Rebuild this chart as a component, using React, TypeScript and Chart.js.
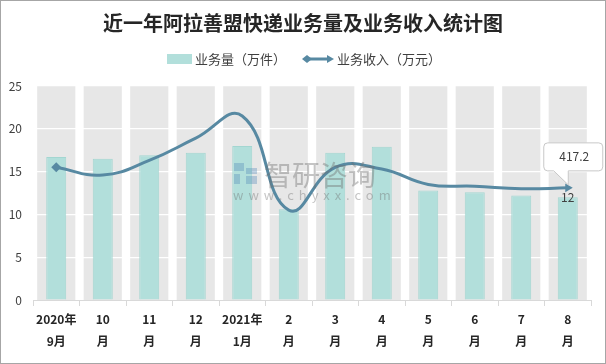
import React, { useEffect, useRef } from 'react';
import { Chart, registerables } from 'chart.js';
Chart.register(...registerables);

const TITLE = '近一年阿拉善盟快递业务量及业务收入统计图';
const CATEGORIES = [
  ['2020年', '9月'], ['10', '月'], ['11', '月'], ['12', '月'], ['2021年', '1月'], ['2', '月'],
  ['3', '月'], ['4', '月'], ['5', '月'], ['6', '月'], ['7', '月'], ['8', '月'],
];
const VOLUME_LABEL = '业务量（万件）';
const REVENUE_LABEL = '业务收入（万元）';
const VOLUME = [16.7, 16.5, 16.9, 17.2, 18.0, 10.6, 17.2, 17.9, 12.8, 12.6, 12.2, 12.0];
const REVENUE = [15.5, 14.6, 16.3, 18.9, 21.5, 10.5, 15.5, 15.3, 13.5, 13.3, 13.0, 13.1];
const Y_MIN = 0;
const Y_MAX = 25;
const Y_STEP = 5;
const CALLOUT_TEXT = '417.2';
const WATERMARK_CN = '智研咨询';
const WATERMARK_URL = 'www.chyxx.com';

const FONT = '"Noto Sans CJK SC", "Noto Sans", sans-serif';
const BAR_FILL = '#b2dfdb';
const BAR_EDGE = '#a3d6d1';
const LINE_COLOR = '#5789a2';
const BAND = '#e7e7e7';
const TEXT = '#404040';

const N = CATEGORIES.length;

const decor = {
  id: 'decor',
  beforeDraw(chart: any) {
    const { ctx, chartArea, scales } = chart;
    const x = scales.x;
    ctx.save();
    ctx.fillStyle = '#ffffff';
    ctx.fillRect(0, 0, chart.width, chart.height);
    // grey column bands
    const cw = (chartArea.right - chartArea.left) / N;
    const bw = cw * 0.82;
    ctx.fillStyle = BAND;
    for (let i = 0; i < N; i++) {
      const cx = x.getPixelForValue(i);
      ctx.fillRect(cx - bw / 2, chartArea.top, bw, chartArea.bottom - chartArea.top);
    }
    // title
    ctx.fillStyle = '#262626';
    ctx.font = `bold 20px ${FONT}`;
    ctx.textAlign = 'center';
    ctx.textBaseline = 'middle';
    ctx.fillText(TITLE, 303, 23);
    // legend
    const ly = 59;
    ctx.fillStyle = BAR_FILL;
    ctx.fillRect(167, ly - 5, 25, 10);
    ctx.font = `13px ${FONT}`;
    ctx.fillStyle = TEXT;
    ctx.textAlign = 'left';
    ctx.fillText(VOLUME_LABEL, 195, ly);
    ctx.strokeStyle = LINE_COLOR;
    ctx.lineWidth = 3;
    ctx.beginPath();
    ctx.moveTo(307, ly);
    ctx.lineTo(330, ly);
    ctx.stroke();
    ctx.fillStyle = LINE_COLOR;
    ctx.beginPath();
    ctx.moveTo(302, ly); ctx.lineTo(307, ly - 4); ctx.lineTo(312, ly); ctx.lineTo(307, ly + 4); ctx.closePath();
    ctx.fill();
    ctx.beginPath();
    ctx.moveTo(334, ly); ctx.lineTo(327, ly - 4); ctx.lineTo(327, ly + 4); ctx.closePath();
    ctx.fill();
    ctx.fillStyle = TEXT;
    ctx.fillText(REVENUE_LABEL, 337, ly);
    ctx.restore();
  },
  afterDatasetsDraw(chart: any) {
    const { ctx } = chart;
    ctx.save();
    // watermark
    ctx.globalAlpha = 0.35;
    ctx.fillStyle = '#4f86b8';
    ctx.fillRect(234, 163, 10, 8);
    ctx.fillRect(234, 174, 6, 10);
    ctx.fillRect(246, 168, 11, 6);
    ctx.fillRect(246, 176, 11, 8);
    ctx.globalAlpha = 0.4;
    ctx.fillStyle = '#6f6f6f';
    ctx.font = `28px ${FONT}`;
    ctx.textAlign = 'left';
    ctx.textBaseline = 'middle';
    ctx.fillText(WATERMARK_CN, 264, 175);
    ctx.font = `13px ${FONT}`;
    (ctx as any).letterSpacing = '5px';
    ctx.fillText(WATERMARK_URL, 233, 195);
    (ctx as any).letterSpacing = '0px';
    ctx.globalAlpha = 1;

    // callout on last line point
    const lineMeta = chart.getDatasetMeta(0);
    const p = lineMeta.data[N - 1];
    const px = p.x, py = p.y;
    const bx = px - 24, by = py - 45, bwid = 59, bh = 28, r = 4;
    ctx.fillStyle = '#ffffff';
    ctx.strokeStyle = '#c8c8c8';
    ctx.lineWidth = 1;
    ctx.beginPath();
    ctx.moveTo(bx + r, by);
    ctx.lineTo(bx + bwid - r, by);
    ctx.arcTo(bx + bwid, by, bx + bwid, by + r, r);
    ctx.lineTo(bx + bwid, by + bh - r);
    ctx.arcTo(bx + bwid, by + bh, bx + bwid - r, by + bh, r);
    ctx.lineTo(px + 0.5, by + bh);
    ctx.lineTo(px + 0.5, py - 3);
    ctx.lineTo(px - 14, by + bh);
    ctx.lineTo(bx + r, by + bh);
    ctx.arcTo(bx, by + bh, bx, by + bh - r, r);
    ctx.lineTo(bx, by + r);
    ctx.arcTo(bx, by, bx + r, by, r);
    ctx.closePath();
    ctx.fill();
    ctx.stroke();
    ctx.fillStyle = TEXT;
    ctx.font = `12px ${FONT}`;
    ctx.textAlign = 'center';
    ctx.textBaseline = 'middle';
    ctx.fillText(CALLOUT_TEXT, bx + bwid / 2 + 1, by + bh / 2);

    // label on last bar
    const barMeta = chart.getDatasetMeta(1);
    const b = barMeta.data[N - 1];
    ctx.fillText(String(VOLUME[N - 1]), b.x, b.y);
    ctx.restore();
  },
  afterDraw(chart: any) {
    const { ctx } = chart;
    ctx.save();
    ctx.strokeStyle = '#a6a6a6';
    ctx.lineWidth = 1;
    ctx.strokeRect(0.5, 0.5, chart.width - 1, chart.height - 1);
    ctx.restore();
  },
};

export default function App() {
  const ref = useRef<HTMLCanvasElement>(null);
  useEffect(() => {
    document.body.style.margin = '0';
    const pointRadius = REVENUE.map((_, i) => (i === 0 || i === N - 1 ? 5 : 0));
    const pointStyle = REVENUE.map((_, i) => (i === N - 1 ? 'triangle' : 'rectRot'));
    const pointRotation = REVENUE.map((_, i) => (i === N - 1 ? 90 : 0));
    const chart = new Chart(ref.current as HTMLCanvasElement, {
      type: 'bar',
      data: {
        labels: CATEGORIES as any,
        datasets: [
          {
            type: 'line',
            label: REVENUE_LABEL,
            data: REVENUE,
            borderColor: LINE_COLOR,
            backgroundColor: LINE_COLOR,
            borderWidth: 3,
            tension: 0.45,
            pointRadius,
            pointStyle: pointStyle as any,
            pointRotation,
            pointBorderWidth: 0,
            pointBackgroundColor: LINE_COLOR,
            fill: false,
          } as any,
          {
            type: 'bar',
            label: VOLUME_LABEL,
            data: VOLUME,
            backgroundColor: BAR_FILL,
            borderColor: BAR_EDGE,
            borderWidth: 1,
            categoryPercentage: 1,
            barPercentage: 0.43,
          },
        ],
      },
      options: {
        responsive: false,
        animation: false,
        devicePixelRatio: 1,
        layout: { padding: { top: 86, right: 15, left: 0, bottom: 0 } },
        plugins: {
          legend: { display: false },
          title: { display: false },
          tooltip: { enabled: false },
        },
        scales: {
          x: {
            grid: {
              offset: true,
              drawOnChartArea: false,
              drawTicks: true,
              tickLength: 6,
              color: '#d9d9d9',
            },
            border: { color: '#d9d9d9' },
            ticks: {
              color: '#262626',
              padding: 3,
              maxRotation: 0,
              autoSkip: false,
              font: { family: FONT, size: 12, weight: 'bold', lineHeight: 1.8 },
            },
            afterFit(scale: any) { scale.height = 64; },
          },
          y: {
            min: Y_MIN,
            max: Y_MAX,
            grid: {
              color: (c: any) => (c.tick && c.tick.value === 0 ? 'rgba(0,0,0,0)' : '#ffffff'),
              lineWidth: 1.2,
              drawTicks: false,
            },
            border: { display: false },
            ticks: {
              stepSize: Y_STEP,
              color: TEXT,
              padding: 11,
              font: { family: FONT, size: 12 },
            },
            afterFit(scale: any) { scale.width = 33; },
          },
        },
      },
      plugins: [decor],
    } as any);
    return () => chart.destroy();
  }, []);
  return (
    <div style={{ width: 606, height: 364 }}>
      <canvas ref={ref} width={606} height={364} style={{ display: 'block' }} />
    </div>
  );
}
